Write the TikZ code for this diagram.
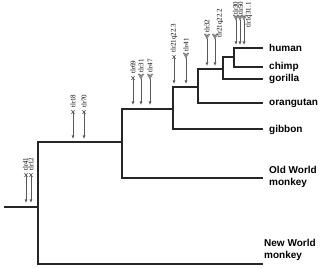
\documentclass[tikz,border=0pt]{standalone}
\usepackage{fontspec}
\setmainfont{Liberation Serif}
\newfontfamily\leaffont{Liberation Sans}
\usetikzlibrary{arrows.meta}
\tikzset{
  branch/.style={draw=black!85, line width=1.1pt, line cap=rect},
  tlrline/.style={draw=black!65, line width=0.7pt},
  fullhead/.style={tlrline, -{Latex[length=3.6pt,width=3pt]}},
  openhead/.style={tlrline, -{Latex[open,length=3.6pt,width=3.2pt,fill=white]}},
  tlrlabel/.style={rotate=90, anchor=west, inner sep=0pt, font=\fontsize{7}{8}\selectfont},
  leaf/.style={anchor=west, inner sep=0pt, align=left, font=\leaffont\bfseries\fontsize{10}{12}\selectfont},
  xtail/.pic={\draw[tlrline, line width=0.6pt] (-1.6,-1.9) -- (1.6,1.9) (-1.6,1.9) -- (1.6,-1.9);},
  vtail/.pic={\draw[tlrline, line width=0.55pt, fill=white] (0,0) -- (-2.5,-4.8) -- (-1.1,-4.8) -- (0,-2.6) -- (1.1,-4.8) -- (2.5,-4.8) -- cycle;},
}
\begin{document}
\begin{tikzpicture}[x=1pt, y=-1pt]
\useasboundingbox (0,0) rectangle (320,267);
\fill[white] (0,0) rectangle (320,267);

% tree junctions
\coordinate (r0) at (5,207);
\coordinate (j0) at (38,207);
\coordinate (j0t) at (38,142);
\coordinate (j0b) at (38,264);
\coordinate (nwm) at (262,264);
\coordinate (j1) at (122,142);
\coordinate (j1t) at (122,109);
\coordinate (j1b) at (122,178);
\coordinate (owm) at (262,178);
\coordinate (j2) at (173,109);
\coordinate (j2t) at (173,87);
\coordinate (j2b) at (173,129);
\coordinate (gib) at (262,129);
\coordinate (j3) at (198,87);
\coordinate (j3t) at (198,69);
\coordinate (j3b) at (198,103);
\coordinate (ora) at (262,103);
\coordinate (j4) at (223,69);
\coordinate (j4t) at (223,57);
\coordinate (j4b) at (223,79);
\coordinate (gor) at (262,79);
\coordinate (j5) at (234,57);
\coordinate (j5t) at (234,48);
\coordinate (j5b) at (234,67);
\coordinate (hum) at (262,48);
\coordinate (chi) at (262,67);

\draw[branch] (r0) -- (j0);
\draw[branch] (j0t) -- (j0b) -- (nwm);
\draw[branch] (j0t) -- (j1);
\draw[branch] (j1t) -- (j1b) -- (owm);
\draw[branch] (j1t) -- (j2);
\draw[branch] (j2t) -- (j2b) -- (gib);
\draw[branch] (j2t) -- (j3);
\draw[branch] (j3t) -- (j3b) -- (ora);
\draw[branch] (j3t) -- (j4);
\draw[branch] (j4t) -- (j4b) -- (gor);
\draw[branch] (j4t) -- (j5);
\draw[branch] (j5t) -- (j5b) -- (chi);
\draw[branch] (j5t) -- (hum);

% leaf labels
\node[leaf] (Lhum) at (269,48) {human};
\node[leaf] (Lchi) at (269,67) {chimp};
\node[leaf] (Lgor) at (269,79) {gorilla};
\node[leaf] (Lora) at (269,103) {orangutan};
\node[leaf] (Lgib) at (269,130) {gibbon};
\node[leaf] (Lowm) at (269,177) {Old World\\monkey};
\node[leaf] (Lnwm) at (264,250) {New World\\monkey};

% root markers
\coordinate (ta1) at (26,175); \coordinate (ha1) at (26,203);
\coordinate (ta2) at (31,175); \coordinate (ha2) at (31,203);
\draw[fullhead] (ta1) -- (ha1); \pic at (ta1) {xtail};
\draw[fullhead] (ta2) -- (ha2); \pic at (ta2) {xtail};
\node[tlrlabel] (la1) at (25.5,171) {tlr41};
\node[tlrlabel] (la2) at (31,171) {tlr12};

% tlr18, tlr70
\coordinate (tb1) at (73,112); \coordinate (hb1) at (73,139);
\coordinate (tb2) at (84,112); \coordinate (hb2) at (84,139);
\draw[fullhead] (tb1) -- (hb1); \pic at (tb1) {xtail};
\draw[fullhead] (tb2) -- (hb2); \pic at (tb2) {xtail};
\node[tlrlabel] (lb1) at (73,108) {tlr18};
\node[tlrlabel] (lb2) at (84,108) {tlr70};

% tlr69, tlr31, tlr47
\coordinate (tc1) at (133,78); \coordinate (hc1) at (133,105);
\coordinate (tc2) at (141,79); \coordinate (hc2) at (141,105);
\coordinate (tc3) at (150,79); \coordinate (hc3) at (150,105);
\draw[fullhead] (tc1) -- (hc1); \pic at (tc1) {xtail};
\draw[openhead] (tc2) -- (hc2); \pic at (tc2) {vtail};
\draw[openhead] (tc3) -- (hc3); \pic at (tc3) {vtail};
\node[tlrlabel] (lc1) at (133,74) {tlr69};
\node[tlrlabel] (lc2) at (141,72.5) {tlr31};
\node[tlrlabel] (lc3) at (150,72.5) {tlr47};

% tlr21q22.3, tlr41
\coordinate (td1) at (174,57); \coordinate (hd1) at (174,84);
\coordinate (td2) at (186,58); \coordinate (hd2) at (186,84);
\draw[fullhead] (td1) -- (hd1); \pic at (td1) {xtail};
\draw[openhead] (td2) -- (hd2); \pic at (td2) {vtail};
\node[tlrlabel] (ld1) at (174,53) {tlr21q22.3};
\node[tlrlabel] (ld2) at (186,51.5) {tlr41};

% tlr32, tlr21q22.2
\coordinate (te1) at (207,39); \coordinate (he1) at (207,66);
\coordinate (te2) at (215,39); \coordinate (he2) at (215,66);
\draw[openhead] (te1) -- (he1); \pic at (te1) {vtail};
\draw[openhead] (te2) -- (he2); \pic at (te2) {vtail};
\node[tlrlabel] (le1) at (207,33) {tlr32};
\node[tlrlabel] (le2) at (220,38) {tlr21q22.2};

% tlr30, tlr50, tlr1q31.1
\coordinate (tf1) at (236,20); \coordinate (hf1) at (236,45);
\coordinate (tf2) at (240,20); \coordinate (hf2) at (240,45);
\coordinate (tf3) at (244,20); \coordinate (hf3) at (244,45);
\draw[openhead] (tf1) -- (hf1); \pic at (tf1) {vtail};
\draw[openhead] (tf2) -- (hf2); \pic at (tf2) {vtail};
\draw[openhead] (tf3) -- (hf3); \pic at (tf3) {vtail};
\node[tlrlabel] (lf1) at (235.5,15) {tlr30};
\node[tlrlabel] (lf2) at (240.5,15) {tlr50};
\node[tlrlabel] (lf3) at (249,28) {tlr1q31.1};
\end{tikzpicture}
\end{document}
